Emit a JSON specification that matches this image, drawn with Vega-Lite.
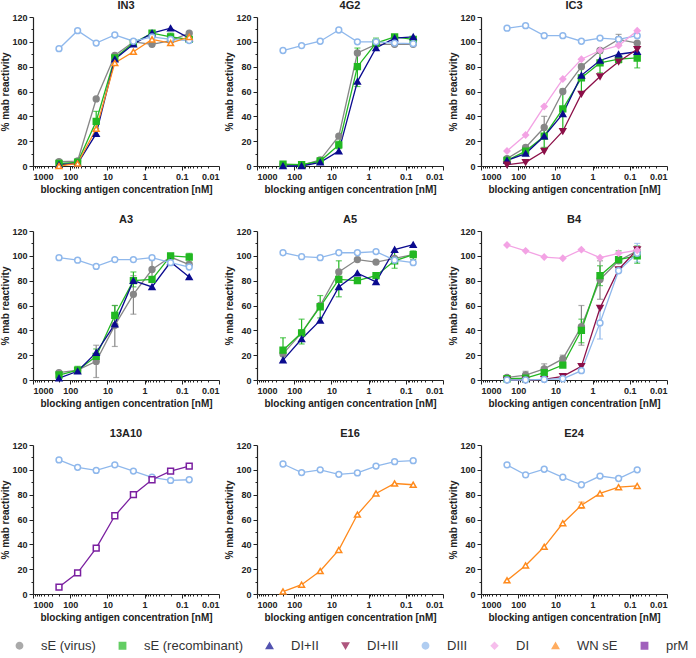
{
  "$schema": "https://vega.github.io/schema/vega-lite/v6.json",
  "padding": {"left": 0, "top": 0, "right": 0, "bottom": 0},
  "background": "white",
  "config": {
    "font": "Liberation Sans",
    "view": {"stroke": null},
    "axis": {"labelFont": "Liberation Sans", "labelFontWeight": "bold", "labelFontSize": 9, "labelColor": "#222", "titleFont": "Liberation Sans", "titleFontWeight": "bold", "titleFontSize": 10, "titleColor": "#222", "domainColor": "#222", "tickColor": "#222", "grid": false, "domainWidth": 1.2, "tickWidth": 1, "labelPadding": 2, "labelOverlap": false},
    "header": {"labelFont": "Liberation Sans", "labelFontSize": 11, "labelFontWeight": "bold", "labelColor": "#222", "labelPadding": 2},
    "legend": {"labelFont": "Liberation Sans", "labelFontSize": 13, "labelColor": "#333"}
  },
  "data": {"values": [
    {"p":"IN3","s":"sE (virus)","x":200,"y":3.5},{"p":"IN3","s":"sE (virus)","x":63.2,"y":4},{"p":"IN3","s":"sE (virus)","x":20,"y":54},{"p":"IN3","s":"sE (virus)","x":6.32,"y":89},{"p":"IN3","s":"sE (virus)","x":2,"y":100},{"p":"IN3","s":"sE (virus)","x":0.632,"y":98},{"p":"IN3","s":"sE (virus)","x":0.2,"y":101},{"p":"IN3","s":"sE (virus)","x":0.0632,"y":107},
    {"p":"IN3","s":"sE (recombinant)","x":200,"y":2},{"p":"IN3","s":"sE (recombinant)","x":63.2,"y":3},{"p":"IN3","s":"sE (recombinant)","x":20,"y":36,"lo":30,"hi":44},{"p":"IN3","s":"sE (recombinant)","x":6.32,"y":87},{"p":"IN3","s":"sE (recombinant)","x":2,"y":99},{"p":"IN3","s":"sE (recombinant)","x":0.632,"y":107},{"p":"IN3","s":"sE (recombinant)","x":0.2,"y":104,"lo":101,"hi":107},{"p":"IN3","s":"sE (recombinant)","x":0.0632,"y":102},
    {"p":"IN3","s":"DI+II","x":200,"y":1},{"p":"IN3","s":"DI+II","x":63.2,"y":2},{"p":"IN3","s":"DI+II","x":20,"y":26},{"p":"IN3","s":"DI+II","x":6.32,"y":86},{"p":"IN3","s":"DI+II","x":2,"y":98},{"p":"IN3","s":"DI+II","x":0.632,"y":107},{"p":"IN3","s":"DI+II","x":0.2,"y":111},{"p":"IN3","s":"DI+II","x":0.0632,"y":103},
    {"p":"IN3","s":"DIII","x":200,"y":94.5},{"p":"IN3","s":"DIII","x":63.2,"y":109},{"p":"IN3","s":"DIII","x":20,"y":99},{"p":"IN3","s":"DIII","x":6.32,"y":105.5},{"p":"IN3","s":"DIII","x":2,"y":100.5},{"p":"IN3","s":"DIII","x":0.632,"y":104},{"p":"IN3","s":"DIII","x":0.2,"y":102},{"p":"IN3","s":"DIII","x":0.0632,"y":101},
    {"p":"IN3","s":"WN sE","x":200,"y":0},{"p":"IN3","s":"WN sE","x":63.2,"y":2},{"p":"IN3","s":"WN sE","x":20,"y":30},{"p":"IN3","s":"WN sE","x":6.32,"y":83},{"p":"IN3","s":"WN sE","x":2,"y":92},{"p":"IN3","s":"WN sE","x":0.632,"y":102},{"p":"IN3","s":"WN sE","x":0.2,"y":99},{"p":"IN3","s":"WN sE","x":0.0632,"y":104},

    {"p":"4G2","s":"sE (virus)","x":200,"y":1},{"p":"4G2","s":"sE (virus)","x":63.2,"y":0.5},{"p":"4G2","s":"sE (virus)","x":20,"y":5},{"p":"4G2","s":"sE (virus)","x":6.32,"y":24},{"p":"4G2","s":"sE (virus)","x":2,"y":91},{"p":"4G2","s":"sE (virus)","x":0.632,"y":98},{"p":"4G2","s":"sE (virus)","x":0.2,"y":98},{"p":"4G2","s":"sE (virus)","x":0.0632,"y":98},
    {"p":"4G2","s":"sE (recombinant)","x":200,"y":1.5},{"p":"4G2","s":"sE (recombinant)","x":63.2,"y":1},{"p":"4G2","s":"sE (recombinant)","x":20,"y":4},{"p":"4G2","s":"sE (recombinant)","x":6.32,"y":17,"lo":14,"hi":20},{"p":"4G2","s":"sE (recombinant)","x":2,"y":80,"lo":64,"hi":95},{"p":"4G2","s":"sE (recombinant)","x":0.632,"y":99,"lo":97,"hi":103},{"p":"4G2","s":"sE (recombinant)","x":0.2,"y":104},{"p":"4G2","s":"sE (recombinant)","x":0.0632,"y":102},
    {"p":"4G2","s":"DI+II","x":200,"y":0},{"p":"4G2","s":"DI+II","x":63.2,"y":0},{"p":"4G2","s":"DI+II","x":20,"y":3},{"p":"4G2","s":"DI+II","x":6.32,"y":12},{"p":"4G2","s":"DI+II","x":2,"y":68},{"p":"4G2","s":"DI+II","x":0.632,"y":95},{"p":"4G2","s":"DI+II","x":0.2,"y":103},{"p":"4G2","s":"DI+II","x":0.0632,"y":104},
    {"p":"4G2","s":"DIII","x":200,"y":93},{"p":"4G2","s":"DIII","x":63.2,"y":97},{"p":"4G2","s":"DIII","x":20,"y":100.5},{"p":"4G2","s":"DIII","x":6.32,"y":109.5},{"p":"4G2","s":"DIII","x":2,"y":100},{"p":"4G2","s":"DIII","x":0.632,"y":100},{"p":"4G2","s":"DIII","x":0.2,"y":99},{"p":"4G2","s":"DIII","x":0.0632,"y":98.5},

    {"p":"IC3","s":"sE (virus)","x":200,"y":6},{"p":"IC3","s":"sE (virus)","x":63.2,"y":15},{"p":"IC3","s":"sE (virus)","x":20,"y":31,"lo":22,"hi":40},{"p":"IC3","s":"sE (virus)","x":6.32,"y":60},{"p":"IC3","s":"sE (virus)","x":2,"y":80},{"p":"IC3","s":"sE (virus)","x":0.632,"y":93},{"p":"IC3","s":"sE (virus)","x":0.2,"y":102,"lo":98,"hi":106},{"p":"IC3","s":"sE (virus)","x":0.0632,"y":99},
    {"p":"IC3","s":"sE (recombinant)","x":200,"y":4.5},{"p":"IC3","s":"sE (recombinant)","x":63.2,"y":12,"lo":9,"hi":15},{"p":"IC3","s":"sE (recombinant)","x":20,"y":24,"lo":15,"hi":32},{"p":"IC3","s":"sE (recombinant)","x":6.32,"y":46,"lo":30,"hi":62},{"p":"IC3","s":"sE (recombinant)","x":2,"y":71,"lo":60,"hi":82},{"p":"IC3","s":"sE (recombinant)","x":0.632,"y":83,"lo":75,"hi":91},{"p":"IC3","s":"sE (recombinant)","x":0.2,"y":86,"lo":83,"hi":89},{"p":"IC3","s":"sE (recombinant)","x":0.0632,"y":87,"lo":79,"hi":95},
    {"p":"IC3","s":"DI+II","x":200,"y":4.5},{"p":"IC3","s":"DI+II","x":63.2,"y":10},{"p":"IC3","s":"DI+II","x":20,"y":24},{"p":"IC3","s":"DI+II","x":6.32,"y":42},{"p":"IC3","s":"DI+II","x":2,"y":73},{"p":"IC3","s":"DI+II","x":0.632,"y":85},{"p":"IC3","s":"DI+II","x":0.2,"y":90},{"p":"IC3","s":"DI+II","x":0.0632,"y":92},
    {"p":"IC3","s":"DI+III","x":200,"y":1},{"p":"IC3","s":"DI+III","x":63.2,"y":3},{"p":"IC3","s":"DI+III","x":20,"y":12},{"p":"IC3","s":"DI+III","x":6.32,"y":28},{"p":"IC3","s":"DI+III","x":2,"y":58},{"p":"IC3","s":"DI+III","x":0.632,"y":72},{"p":"IC3","s":"DI+III","x":0.2,"y":84},{"p":"IC3","s":"DI+III","x":0.0632,"y":94},
    {"p":"IC3","s":"DIII","x":200,"y":111},{"p":"IC3","s":"DIII","x":63.2,"y":113},{"p":"IC3","s":"DIII","x":20,"y":105},{"p":"IC3","s":"DIII","x":6.32,"y":105},{"p":"IC3","s":"DIII","x":2,"y":100.5},{"p":"IC3","s":"DIII","x":0.632,"y":103},{"p":"IC3","s":"DIII","x":0.2,"y":102},{"p":"IC3","s":"DIII","x":0.0632,"y":105},
    {"p":"IC3","s":"DI","x":200,"y":12},{"p":"IC3","s":"DI","x":63.2,"y":25},{"p":"IC3","s":"DI","x":20,"y":48},{"p":"IC3","s":"DI","x":6.32,"y":70},{"p":"IC3","s":"DI","x":2,"y":86},{"p":"IC3","s":"DI","x":0.632,"y":93},{"p":"IC3","s":"DI","x":0.2,"y":97},{"p":"IC3","s":"DI","x":0.0632,"y":109},

    {"p":"A3","s":"sE (virus)","x":200,"y":6},{"p":"A3","s":"sE (virus)","x":63.2,"y":8},{"p":"A3","s":"sE (virus)","x":20,"y":15,"lo":2,"hi":28},{"p":"A3","s":"sE (virus)","x":6.32,"y":44,"lo":27,"hi":60},{"p":"A3","s":"sE (virus)","x":2,"y":69,"lo":53,"hi":84},{"p":"A3","s":"sE (virus)","x":0.632,"y":89,"lo":80,"hi":98},{"p":"A3","s":"sE (virus)","x":0.2,"y":99},{"p":"A3","s":"sE (virus)","x":0.0632,"y":93},
    {"p":"A3","s":"sE (recombinant)","x":200,"y":4},{"p":"A3","s":"sE (recombinant)","x":63.2,"y":8,"lo":6,"hi":11},{"p":"A3","s":"sE (recombinant)","x":20,"y":19,"lo":15,"hi":25},{"p":"A3","s":"sE (recombinant)","x":6.32,"y":52,"lo":45,"hi":60},{"p":"A3","s":"sE (recombinant)","x":2,"y":80,"lo":75,"hi":87},{"p":"A3","s":"sE (recombinant)","x":0.632,"y":81},{"p":"A3","s":"sE (recombinant)","x":0.2,"y":100},{"p":"A3","s":"sE (recombinant)","x":0.0632,"y":99,"lo":95,"hi":102},
    {"p":"A3","s":"DI+II","x":200,"y":1.5},{"p":"A3","s":"DI+II","x":63.2,"y":7},{"p":"A3","s":"DI+II","x":20,"y":22},{"p":"A3","s":"DI+II","x":6.32,"y":45},{"p":"A3","s":"DI+II","x":2,"y":80},{"p":"A3","s":"DI+II","x":0.632,"y":75},{"p":"A3","s":"DI+II","x":0.2,"y":95},{"p":"A3","s":"DI+II","x":0.0632,"y":83},
    {"p":"A3","s":"DIII","x":200,"y":98.5},{"p":"A3","s":"DIII","x":63.2,"y":96.5},{"p":"A3","s":"DIII","x":20,"y":91.5},{"p":"A3","s":"DIII","x":6.32,"y":97},{"p":"A3","s":"DIII","x":2,"y":97},{"p":"A3","s":"DIII","x":0.632,"y":98.5},{"p":"A3","s":"DIII","x":0.2,"y":94.5},{"p":"A3","s":"DIII","x":0.0632,"y":91},

    {"p":"A5","s":"sE (virus)","x":200,"y":21},{"p":"A5","s":"sE (virus)","x":63.2,"y":38},{"p":"A5","s":"sE (virus)","x":20,"y":60},{"p":"A5","s":"sE (virus)","x":6.32,"y":87},{"p":"A5","s":"sE (virus)","x":2,"y":97},{"p":"A5","s":"sE (virus)","x":0.632,"y":95},{"p":"A5","s":"sE (virus)","x":0.2,"y":98},{"p":"A5","s":"sE (virus)","x":0.0632,"y":101},
    {"p":"A5","s":"sE (recombinant)","x":200,"y":24,"lo":15,"hi":34},{"p":"A5","s":"sE (recombinant)","x":63.2,"y":38,"lo":29,"hi":49},{"p":"A5","s":"sE (recombinant)","x":20,"y":59,"lo":50,"hi":68},{"p":"A5","s":"sE (recombinant)","x":6.32,"y":81,"lo":67,"hi":96},{"p":"A5","s":"sE (recombinant)","x":2,"y":80},{"p":"A5","s":"sE (recombinant)","x":0.632,"y":84,"lo":82,"hi":86},{"p":"A5","s":"sE (recombinant)","x":0.2,"y":96,"lo":90,"hi":103},{"p":"A5","s":"sE (recombinant)","x":0.0632,"y":101,"lo":97,"hi":104},
    {"p":"A5","s":"DI+II","x":200,"y":16},{"p":"A5","s":"DI+II","x":63.2,"y":33},{"p":"A5","s":"DI+II","x":20,"y":48},{"p":"A5","s":"DI+II","x":6.32,"y":75},{"p":"A5","s":"DI+II","x":2,"y":86},{"p":"A5","s":"DI+II","x":0.632,"y":79},{"p":"A5","s":"DI+II","x":0.2,"y":105},{"p":"A5","s":"DI+II","x":0.0632,"y":109},
    {"p":"A5","s":"DIII","x":200,"y":102.5},{"p":"A5","s":"DIII","x":63.2,"y":99.3},{"p":"A5","s":"DIII","x":20,"y":98.5},{"p":"A5","s":"DIII","x":6.32,"y":102.5},{"p":"A5","s":"DIII","x":2,"y":102.5},{"p":"A5","s":"DIII","x":0.632,"y":103.4},{"p":"A5","s":"DIII","x":0.2,"y":96.5},{"p":"A5","s":"DIII","x":0.0632,"y":94.5},

    {"p":"B4","s":"sE (virus)","x":200,"y":2,"lo":1,"hi":3},{"p":"B4","s":"sE (virus)","x":63.2,"y":4,"lo":2,"hi":7},{"p":"B4","s":"sE (virus)","x":20,"y":9,"lo":6,"hi":13},{"p":"B4","s":"sE (virus)","x":6.32,"y":17,"lo":15,"hi":20},{"p":"B4","s":"sE (virus)","x":2,"y":43,"lo":28,"hi":60},{"p":"B4","s":"sE (virus)","x":0.632,"y":81,"lo":65,"hi":96},{"p":"B4","s":"sE (virus)","x":0.2,"y":96},{"p":"B4","s":"sE (virus)","x":0.0632,"y":104},
    {"p":"B4","s":"sE (recombinant)","x":200,"y":1},{"p":"B4","s":"sE (recombinant)","x":63.2,"y":1.5},{"p":"B4","s":"sE (recombinant)","x":20,"y":6},{"p":"B4","s":"sE (recombinant)","x":6.32,"y":12},{"p":"B4","s":"sE (recombinant)","x":2,"y":40,"lo":30,"hi":49},{"p":"B4","s":"sE (recombinant)","x":0.632,"y":84,"lo":76,"hi":92},{"p":"B4","s":"sE (recombinant)","x":0.2,"y":97,"lo":94,"hi":104},{"p":"B4","s":"sE (recombinant)","x":0.0632,"y":100,"lo":94,"hi":108},
    {"p":"B4","s":"DI+III","x":200,"y":0},{"p":"B4","s":"DI+III","x":63.2,"y":0},{"p":"B4","s":"DI+III","x":20,"y":0.5},{"p":"B4","s":"DI+III","x":6.32,"y":3},{"p":"B4","s":"DI+III","x":2,"y":11},{"p":"B4","s":"DI+III","x":0.632,"y":58},{"p":"B4","s":"DI+III","x":0.2,"y":89},{"p":"B4","s":"DI+III","x":0.0632,"y":105},
    {"p":"B4","s":"DIII","x":200,"y":0},{"p":"B4","s":"DIII","x":63.2,"y":0},{"p":"B4","s":"DIII","x":20,"y":0.5},{"p":"B4","s":"DIII","x":6.32,"y":1},{"p":"B4","s":"DIII","x":2,"y":7.5},{"p":"B4","s":"DIII","x":0.632,"y":46,"lo":33,"hi":58},{"p":"B4","s":"DIII","x":0.2,"y":88},{"p":"B4","s":"DIII","x":0.0632,"y":102,"lo":95,"hi":110},
    {"p":"B4","s":"DI","x":200,"y":108.7},{"p":"B4","s":"DI","x":63.2,"y":104},{"p":"B4","s":"DI","x":20,"y":99},{"p":"B4","s":"DI","x":6.32,"y":98},{"p":"B4","s":"DI","x":2,"y":105},{"p":"B4","s":"DI","x":0.632,"y":98.5},{"p":"B4","s":"DI","x":0.2,"y":102},{"p":"B4","s":"DI","x":0.0632,"y":104.5},

    {"p":"13A10","s":"DIII","x":200,"y":108},{"p":"13A10","s":"DIII","x":63.2,"y":102},{"p":"13A10","s":"DIII","x":20,"y":99.5},{"p":"13A10","s":"DIII","x":6.32,"y":104},{"p":"13A10","s":"DIII","x":2,"y":99},{"p":"13A10","s":"DIII","x":0.632,"y":94},{"p":"13A10","s":"DIII","x":0.2,"y":91.5},{"p":"13A10","s":"DIII","x":0.0632,"y":92},
    {"p":"13A10","s":"prM","x":200,"y":5.6},{"p":"13A10","s":"prM","x":63.2,"y":17},{"p":"13A10","s":"prM","x":20,"y":37},{"p":"13A10","s":"prM","x":6.32,"y":63},{"p":"13A10","s":"prM","x":2,"y":80},{"p":"13A10","s":"prM","x":0.632,"y":92},{"p":"13A10","s":"prM","x":0.2,"y":99},{"p":"13A10","s":"prM","x":0.0632,"y":103},

    {"p":"E16","s":"DIII","x":200,"y":104.7},{"p":"E16","s":"DIII","x":63.2,"y":97.8},{"p":"E16","s":"DIII","x":20,"y":100},{"p":"E16","s":"DIII","x":6.32,"y":96.4},{"p":"E16","s":"DIII","x":2,"y":97.5},{"p":"E16","s":"DIII","x":0.632,"y":103},{"p":"E16","s":"DIII","x":0.2,"y":106.6},{"p":"E16","s":"DIII","x":0.0632,"y":107.4},
    {"p":"E16","s":"WN sE","x":200,"y":2},{"p":"E16","s":"WN sE","x":63.2,"y":7.5},{"p":"E16","s":"WN sE","x":20,"y":18.5},{"p":"E16","s":"WN sE","x":6.32,"y":35.5},{"p":"E16","s":"WN sE","x":2,"y":64},{"p":"E16","s":"WN sE","x":0.632,"y":81},{"p":"E16","s":"WN sE","x":0.2,"y":89},{"p":"E16","s":"WN sE","x":0.0632,"y":88},

    {"p":"E24","s":"DIII","x":200,"y":104},{"p":"E24","s":"DIII","x":63.2,"y":96},{"p":"E24","s":"DIII","x":20,"y":100.5},{"p":"E24","s":"DIII","x":6.32,"y":94},{"p":"E24","s":"DIII","x":2,"y":88},{"p":"E24","s":"DIII","x":0.632,"y":95},{"p":"E24","s":"DIII","x":0.2,"y":93},{"p":"E24","s":"DIII","x":0.0632,"y":100},
    {"p":"E24","s":"WN sE","x":200,"y":11},{"p":"E24","s":"WN sE","x":63.2,"y":23},{"p":"E24","s":"WN sE","x":20,"y":38},{"p":"E24","s":"WN sE","x":6.32,"y":57},{"p":"E24","s":"WN sE","x":2,"y":71.5,"lo":69,"hi":74},{"p":"E24","s":"WN sE","x":0.632,"y":81},{"p":"E24","s":"WN sE","x":0.2,"y":86},{"p":"E24","s":"WN sE","x":0.0632,"y":87}
  ]},
  "facet": {"field": "p", "type": "nominal", "sort": ["IN3","4G2","IC3","A3","A5","B4","13A10","E16","E24"], "header": {"title": null}},
  "columns": 3,
  "spacing": {"row": 20, "column": 4},
  "resolve": {"axis": {"x": "independent", "y": "independent"}},
  "spec": {
    "width": 186,
    "height": 149,
    "encoding": {
      "x": {"field": "x", "type": "quantitative",
        "scale": {"type": "log", "domain": [0.01, 1000], "reverse": true, "nice": false},
        "axis": {"title": "blocking antigen concentration [nM]", "titlePadding": 3, "labelOverlap": false,
          "values": [1000,900,800,700,600,500,400,300,200,100,90,80,70,60,50,40,30,20,10,9,8,7,6,5,4,3,2,1,0.9,0.8,0.7,0.6,0.5,0.4,0.3,0.2,0.1,0.09,0.08,0.07,0.06,0.05,0.04,0.03,0.02,0.01],
          "labelExpr": "datum.value==1000?'1000':datum.value==100?'100':datum.value==10?'10':datum.value==1?'1':datum.value==0.1?'0.1':datum.value==0.01?'0.01':''",
          "tickSize": {"condition": {"test": "indexof([1000,100,10,1,0.1,0.01], datum.value) >= 0", "value": 4}, "value": 2}}},
      "color": {"field": "s", "type": "nominal",
        "scale": {"domain": ["sE (virus)","sE (recombinant)","DI+II","DI+III","DIII","DI","WN sE","prM"],
                  "range": ["#878787","#22B822","#0B0B8F","#8C1048","#8FB8EC","#F3A3E4","#FF8A1C","#7A1FA0"]},
        "legend": {"title": null, "orient": "none", "legendX": -20, "legendY": 622, "direction": "horizontal", "columns": 8, "symbolSize": 40, "symbolStrokeWidth": 1.5, "labelOffset": 15, "columnPadding": 20, "padding": 0}}
    },
    "layer": [
      {"transform": [{"filter": "isValid(datum.lo)"}],
       "mark": {"type": "errorbar", "ticks": {"size": 6, "thickness": 1.2}, "thickness": 1.2},
       "encoding": {
         "y": {"field": "lo", "type": "quantitative", "title": "% mab reactivity", "scale": {"domain": [0, 120], "nice": false},
          "axis": {"title": "% mab reactivity", "titlePadding": 1, "labelPadding": 2, "labelOverlap": false, "values": [0,10,20,30,40,50,60,70,80,90,100,110,120],
            "labelExpr": "datum.value % 20 == 0 ? datum.label : ''",
            "tickSize": {"condition": {"test": "datum.value % 20 == 0", "value": 4}, "value": 2}}}, "y2": {"field": "hi"}}},
      {"mark": {"type": "line", "strokeWidth": 1.3},
       "encoding": {
         "y": {"field": "y", "type": "quantitative", "title": "% mab reactivity", "scale": {"domain": [0, 120], "nice": false},
          "axis": {"title": "% mab reactivity", "titlePadding": 1, "labelPadding": 2, "labelOverlap": false, "values": [0,10,20,30,40,50,60,70,80,90,100,110,120],
            "labelExpr": "datum.value % 20 == 0 ? datum.label : ''",
            "tickSize": {"condition": {"test": "datum.value % 20 == 0", "value": 4}, "value": 2}}}}},
      {"mark": {"type": "point", "filled": false, "size": 34, "strokeWidth": 1.5, "opacity": 1},
       "encoding": {
         "y": {"field": "y", "type": "quantitative", "title": "% mab reactivity",
          "axis": {"title": "% mab reactivity", "titlePadding": 1, "labelPadding": 2, "labelOverlap": false, "values": [0,10,20,30,40,50,60,70,80,90,100,110,120],
            "labelExpr": "datum.value % 20 == 0 ? datum.label : ''",
            "tickSize": {"condition": {"test": "datum.value % 20 == 0", "value": 4}, "value": 2}}},
         "shape": {"field": "s", "type": "nominal", "scale": {"domain": ["sE (virus)","sE (recombinant)","DI+II","DI+III","DIII","DI","WN sE","prM"], "range": ["circle","square","triangle-up","triangle-down","circle","diamond","triangle-up","square"]},
           "legend": {"title": null, "orient": "none", "legendX": -20, "legendY": 622, "direction": "horizontal", "columns": 8, "symbolSize": 40, "symbolStrokeWidth": 1.5, "labelOffset": 15, "columnPadding": 20, "padding": 0}},
         "fill": {"field": "s", "type": "nominal", "scale": {"domain": ["sE (virus)","sE (recombinant)","DI+II","DI+III","DIII","DI","WN sE","prM"], "range": ["#878787","#22B822","#0B0B8F","#8C1048","#ffffff","#F3A3E4","#ffffff","#ffffff"]},
           "legend": {"title": null, "orient": "none", "legendX": -20, "legendY": 622, "direction": "horizontal", "columns": 8, "symbolSize": 40, "symbolStrokeWidth": 1.5, "labelOffset": 15, "columnPadding": 20, "padding": 0}}}}
    ]
  }
}
